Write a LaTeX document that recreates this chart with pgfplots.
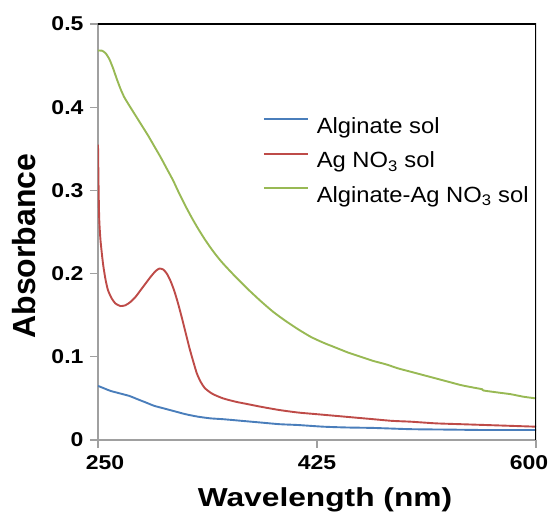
\documentclass[border=0pt]{standalone}
\usepackage{fontspec}
\setmainfont{Liberation Sans}[FakeStretch=1.08]
\newfontfamily\tickfont{Liberation Sans}[FakeStretch=1.15]
\newfontfamily\xlabfont{Liberation Sans}[FakeStretch=1.22]
\newfontfamily\ylabfont{Liberation Sans}
\usepackage{pgfplots}
\pgfplotsset{compat=1.18}

\definecolor{algblue}{HTML}{4A7EBB}
\definecolor{agred}{HTML}{BE4B48}
\definecolor{mixgreen}{HTML}{98B954}
\definecolor{axgray}{HTML}{A0A0A0}

\begin{document}
\begin{tikzpicture}
\path[use as bounding box] (-98pt,-78pt) rectangle (455pt,440pt);
\begin{axis}[
  scale only axis,
  width=438pt, height=416pt,
  xmin=250, xmax=600, ymin=0, ymax=0.5,
  xtick={250,425,600},
  xticklabels={{\rule{14pt}{0pt}250},{425},{600\rule{14pt}{0pt}}},
  ytick={0,0.1,0.2,0.3,0.4,0.5},
  axis x line*=bottom, axis y line*=left,
  axis line style={axgray, line width=1.3pt, -},
  tick style={axgray, line width=1.1pt},
  major tick length=8pt,
  tick align=outside,
  /pgf/number format/assume math mode=true,
  yticklabel style={/pgf/number format/fixed, /pgf/number format/precision=1, xshift=-3pt},
  xticklabel style={yshift=-4pt},
  ticklabel style={font=\tickfont\bfseries\fontsize{20}{22}\selectfont},
  xlabel={Wavelength (nm)},
  ylabel={Absorbance},
  xlabel style={font=\xlabfont\bfseries\fontsize{26}{28}\selectfont, yshift=-11pt, xshift=8pt},
  ylabel style={font=\ylabfont\bfseries\fontsize{32}{34}\selectfont, yshift=9pt, xshift=-14pt},
  legend cell align=left,
  legend style={draw=none, fill=none, at={(axis description cs:0.376,0.778)},
    anchor=north west, inner sep=0pt,
    font=\fontsize{22}{24}\selectfont, row sep=15pt,
    nodes={inner sep=1pt}},
  legend image code/.code={\draw[#1] (-2pt,7pt) -- (42pt,7pt); \path (49pt,7pt);},
  every axis plot/.append style={line width=1.9pt, smooth, tension=0.4},
]
% Alginate solution
\addplot[algblue] coordinates {
(250,0.065) (255,0.062) (260,0.059) (265,0.057) (270,0.055) (275,0.053)
(280,0.050) (285,0.047) (290,0.044) (295,0.041) (300,0.039) (310,0.035)
(320,0.031) (330,0.028) (340,0.026) (350,0.025) (365,0.023) (380,0.021)
(395,0.019) (410,0.018) (430,0.016) (450,0.015) (470,0.0145) (500,0.013)
(530,0.0125) (560,0.012) (600,0.012)};
\addlegendentry{Alginate sol}
% silver nitrate solution
\addplot[agred] coordinates {
(250,0.355) (250.5,0.300) (251,0.265) (252,0.240) (254,0.212) (256,0.193)
(258,0.180) (261,0.170) (264,0.164) (268,0.161) (272,0.162) (276,0.166)
(280,0.172) (284,0.180) (288,0.188) (292,0.196) (296,0.203) (299,0.206)
(302,0.205) (305,0.200) (308,0.191) (311,0.179) (314,0.164) (317,0.147)
(320,0.129) (323,0.111) (326,0.095) (329,0.080) (332,0.070) (335,0.063)
(338,0.059) (342,0.055) (350,0.050) (360,0.046) (370,0.043) (380,0.040)
(395,0.036) (410,0.033) (425,0.031) (440,0.029) (455,0.027) (470,0.025)
(485,0.023) (500,0.022) (520,0.020) (540,0.019) (560,0.018) (580,0.017)
(600,0.016)};
\addlegendentry{Ag NO\textsubscript{3} sol}
% alginate + silver nitrate
\addplot[mixgreen] coordinates {
(250,0.468) (253,0.468) (256,0.465) (259,0.458) (262,0.447) (265,0.434)
(268,0.422) (271,0.412) (275,0.402) (280,0.390) (285,0.378) (290,0.366)
(295,0.353) (300,0.340) (305,0.326) (310,0.312) (315,0.296) (320,0.281)
(325,0.267) (330,0.254) (335,0.242) (340,0.231) (345,0.221) (350,0.212)
(360,0.196) (370,0.181) (380,0.167) (390,0.154) (400,0.143) (410,0.133)
(420,0.124) (430,0.117) (440,0.111) (450,0.105) (460,0.100) (470,0.095)
(480,0.091) (490,0.086) (500,0.082) (510,0.078) (520,0.074) (530,0.070)
(540,0.066) (550,0.063) (557,0.061) (558,0.0595) (570,0.057) (580,0.055)
(590,0.052) (600,0.050)};
\addlegendentry{Alginate-Ag NO\textsubscript{3} sol}
% top and right frame
\draw[black, line width=1.4pt] ([xshift=-8pt]rel axis cs:0,1) -- (rel axis cs:1,1) -- ([yshift=-7pt]rel axis cs:1,0);
\end{axis}
\end{tikzpicture}
\end{document}
